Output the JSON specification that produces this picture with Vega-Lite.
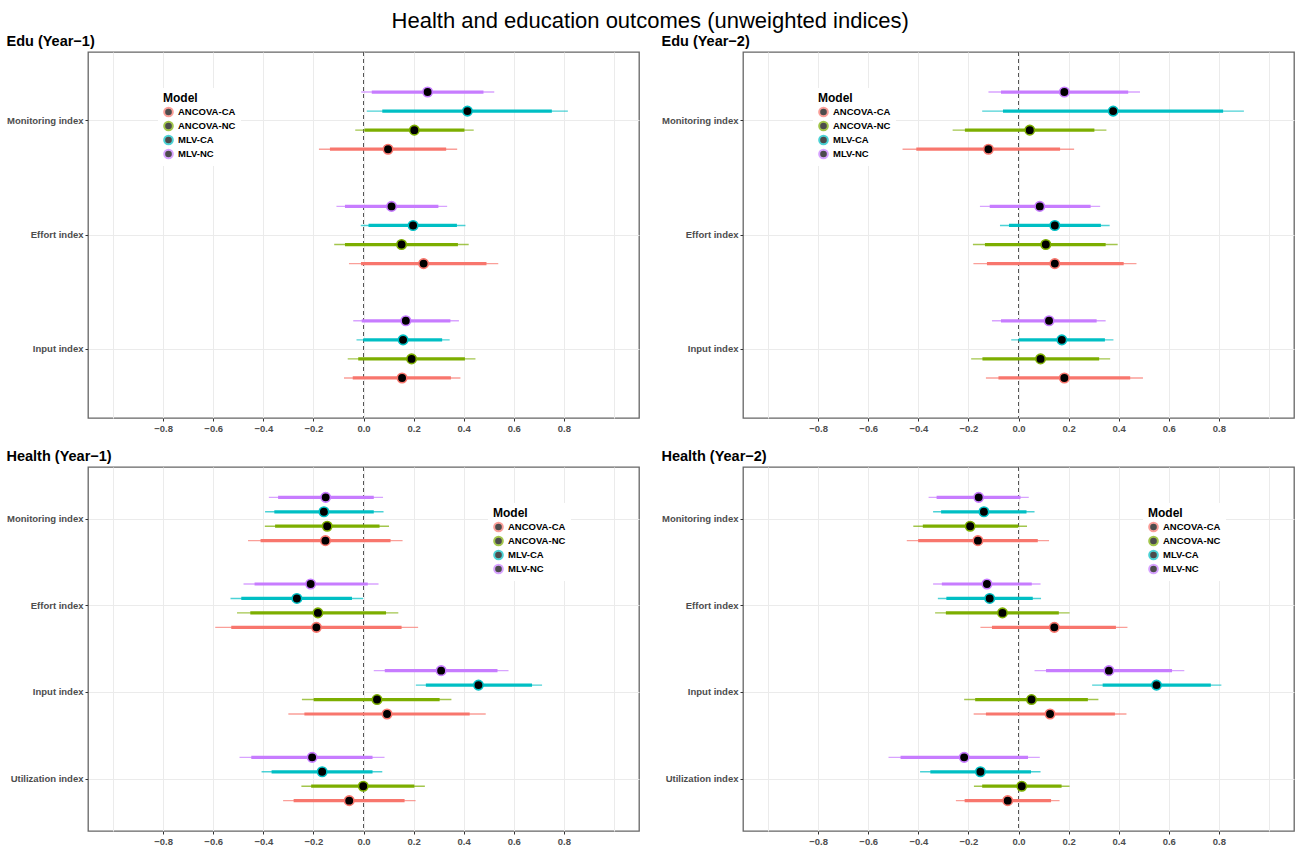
{
  "$schema": "https://vega.github.io/schema/vega-lite/v6.json",
  "padding": {"left": 5, "top": 10, "right": 0, "bottom": 0},
  "background": "white",
  "title": {"text": "Health and education outcomes (unweighted indices)", "fontSize": 22, "fontWeight": "normal", "color": "black", "anchor": "middle", "offset": 0},
  "bounds": "flush",
  "columns": 2,
  "spacing": {"row": 49, "column": 104},
  "resolve": {"scale": {"x": "independent", "y": "independent", "yOffset": "independent", "stroke": "independent"}, "legend": {"stroke": "independent"}, "axis": {"x": "independent", "y": "independent"}},
  "datasets": {
    "edu1": [
      {"index": "Monitoring index", "model": "MLV-NC", "est": 0.256, "lo95": -0.009, "hi95": 0.522, "lo90": 0.033, "hi90": 0.479},
      {"index": "Monitoring index", "model": "MLV-CA", "est": 0.415, "lo95": 0.013, "hi95": 0.816, "lo90": 0.075, "hi90": 0.752},
      {"index": "Monitoring index", "model": "ANCOVA-NC", "est": 0.203, "lo95": -0.033, "hi95": 0.44, "lo90": 0.004, "hi90": 0.403},
      {"index": "Monitoring index", "model": "ANCOVA-CA", "est": 0.098, "lo95": -0.178, "hi95": 0.374, "lo90": -0.134, "hi90": 0.33},
      {"index": "Effort index", "model": "MLV-NC", "est": 0.112, "lo95": -0.108, "hi95": 0.334, "lo90": -0.074, "hi90": 0.299},
      {"index": "Effort index", "model": "MLV-CA", "est": 0.198, "lo95": -0.011, "hi95": 0.407, "lo90": 0.02, "hi90": 0.373},
      {"index": "Effort index", "model": "ANCOVA-NC", "est": 0.152, "lo95": -0.117, "hi95": 0.42, "lo90": -0.074, "hi90": 0.377},
      {"index": "Effort index", "model": "ANCOVA-CA", "est": 0.24, "lo95": -0.058, "hi95": 0.538, "lo90": -0.01, "hi90": 0.491},
      {"index": "Input index", "model": "MLV-NC", "est": 0.169, "lo95": -0.041, "hi95": 0.381, "lo90": -0.007, "hi90": 0.347},
      {"index": "Input index", "model": "MLV-CA", "est": 0.158, "lo95": -0.028, "hi95": 0.344, "lo90": -0.001, "hi90": 0.314},
      {"index": "Input index", "model": "ANCOVA-NC", "est": 0.192, "lo95": -0.063, "hi95": 0.447, "lo90": -0.021, "hi90": 0.405},
      {"index": "Input index", "model": "ANCOVA-CA", "est": 0.154, "lo95": -0.078, "hi95": 0.387, "lo90": -0.043, "hi90": 0.349}
    ],
    "edu2": [
      {"index": "Monitoring index", "model": "MLV-NC", "est": 0.183, "lo95": -0.12, "hi95": 0.485, "lo90": -0.07, "hi90": 0.438},
      {"index": "Monitoring index", "model": "MLV-CA", "est": 0.378, "lo95": -0.145, "hi95": 0.9, "lo90": -0.062, "hi90": 0.817},
      {"index": "Monitoring index", "model": "ANCOVA-NC", "est": 0.045, "lo95": -0.263, "hi95": 0.351, "lo90": -0.214, "hi90": 0.303},
      {"index": "Monitoring index", "model": "ANCOVA-CA", "est": -0.12, "lo95": -0.463, "hi95": 0.222, "lo90": -0.408, "hi90": 0.166},
      {"index": "Effort index", "model": "MLV-NC", "est": 0.085, "lo95": -0.154, "hi95": 0.326, "lo90": -0.115, "hi90": 0.288},
      {"index": "Effort index", "model": "MLV-CA", "est": 0.145, "lo95": -0.074, "hi95": 0.364, "lo90": -0.038, "hi90": 0.329},
      {"index": "Effort index", "model": "ANCOVA-NC", "est": 0.109, "lo95": -0.182, "hi95": 0.396, "lo90": -0.134, "hi90": 0.348},
      {"index": "Effort index", "model": "ANCOVA-CA", "est": 0.145, "lo95": -0.18, "hi95": 0.471, "lo90": -0.126, "hi90": 0.42},
      {"index": "Input index", "model": "MLV-NC", "est": 0.122, "lo95": -0.106, "hi95": 0.348, "lo90": -0.07, "hi90": 0.312},
      {"index": "Input index", "model": "MLV-CA", "est": 0.173, "lo95": -0.029, "hi95": 0.379, "lo90": 0.001, "hi90": 0.345},
      {"index": "Input index", "model": "ANCOVA-NC", "est": 0.088, "lo95": -0.189, "hi95": 0.366, "lo90": -0.144, "hi90": 0.322},
      {"index": "Input index", "model": "ANCOVA-CA", "est": 0.183, "lo95": -0.13, "hi95": 0.497, "lo90": -0.08, "hi90": 0.446}
    ],
    "health1": [
      {"index": "Monitoring index", "model": "MLV-NC", "est": -0.151, "lo95": -0.378, "hi95": 0.078, "lo90": -0.341, "hi90": 0.041},
      {"index": "Monitoring index", "model": "MLV-CA", "est": -0.158, "lo95": -0.393, "hi95": 0.08, "lo90": -0.356, "hi90": 0.041},
      {"index": "Monitoring index", "model": "ANCOVA-NC", "est": -0.145, "lo95": -0.394, "hi95": 0.102, "lo90": -0.353, "hi90": 0.064},
      {"index": "Monitoring index", "model": "ANCOVA-CA", "est": -0.152, "lo95": -0.461, "hi95": 0.156, "lo90": -0.411, "hi90": 0.108},
      {"index": "Effort index", "model": "MLV-NC", "est": -0.211, "lo95": -0.479, "hi95": 0.06, "lo90": -0.435, "hi90": 0.017},
      {"index": "Effort index", "model": "MLV-CA", "est": -0.266, "lo95": -0.531, "hi95": -0.001, "lo90": -0.488, "hi90": -0.046},
      {"index": "Effort index", "model": "ANCOVA-NC", "est": -0.182, "lo95": -0.505, "hi95": 0.139, "lo90": -0.452, "hi90": 0.09},
      {"index": "Effort index", "model": "ANCOVA-CA", "est": -0.188, "lo95": -0.592, "hi95": 0.218, "lo90": -0.528, "hi90": 0.152},
      {"index": "Input index", "model": "MLV-NC", "est": 0.31, "lo95": 0.041, "hi95": 0.579, "lo90": 0.085, "hi90": 0.535},
      {"index": "Input index", "model": "MLV-CA", "est": 0.459, "lo95": 0.209, "hi95": 0.713, "lo90": 0.249, "hi90": 0.673},
      {"index": "Input index", "model": "ANCOVA-NC", "est": 0.054, "lo95": -0.246, "hi95": 0.351, "lo90": -0.199, "hi90": 0.304},
      {"index": "Input index", "model": "ANCOVA-CA", "est": 0.094, "lo95": -0.3, "hi95": 0.488, "lo90": -0.236, "hi90": 0.424},
      {"index": "Utilization index", "model": "MLV-NC", "est": -0.205, "lo95": -0.495, "hi95": 0.084, "lo90": -0.448, "hi90": 0.036},
      {"index": "Utilization index", "model": "MLV-CA", "est": -0.165, "lo95": -0.407, "hi95": 0.075, "lo90": -0.367, "hi90": 0.036},
      {"index": "Utilization index", "model": "ANCOVA-NC", "est": -0.001, "lo95": -0.248, "hi95": 0.245, "lo90": -0.209, "hi90": 0.203},
      {"index": "Utilization index", "model": "ANCOVA-CA", "est": -0.057, "lo95": -0.321, "hi95": 0.208, "lo90": -0.279, "hi90": 0.164}
    ],
    "health2": [
      {"index": "Monitoring index", "model": "MLV-NC", "est": -0.159, "lo95": -0.359, "hi95": 0.041, "lo90": -0.327, "hi90": 0.008},
      {"index": "Monitoring index", "model": "MLV-CA", "est": -0.138, "lo95": -0.341, "hi95": 0.064, "lo90": -0.309, "hi90": 0.032},
      {"index": "Monitoring index", "model": "ANCOVA-NC", "est": -0.193, "lo95": -0.42, "hi95": 0.034, "lo90": -0.382, "hi90": -0.001},
      {"index": "Monitoring index", "model": "ANCOVA-CA", "est": -0.162, "lo95": -0.446, "hi95": 0.122, "lo90": -0.401, "hi90": 0.077},
      {"index": "Effort index", "model": "MLV-NC", "est": -0.126, "lo95": -0.341, "hi95": 0.088, "lo90": -0.306, "hi90": 0.053},
      {"index": "Effort index", "model": "MLV-CA", "est": -0.115, "lo95": -0.322, "hi95": 0.09, "lo90": -0.288, "hi90": 0.057},
      {"index": "Effort index", "model": "ANCOVA-NC", "est": -0.064, "lo95": -0.333, "hi95": 0.204, "lo90": -0.29, "hi90": 0.161},
      {"index": "Effort index", "model": "ANCOVA-CA", "est": 0.143, "lo95": -0.152, "hi95": 0.435, "lo90": -0.106, "hi90": 0.389},
      {"index": "Input index", "model": "MLV-NC", "est": 0.361, "lo95": 0.064, "hi95": 0.662, "lo90": 0.11, "hi90": 0.613},
      {"index": "Input index", "model": "MLV-CA", "est": 0.551, "lo95": 0.294, "hi95": 0.81, "lo90": 0.336, "hi90": 0.768},
      {"index": "Input index", "model": "ANCOVA-NC", "est": 0.052, "lo95": -0.217, "hi95": 0.319, "lo90": -0.173, "hi90": 0.277},
      {"index": "Input index", "model": "ANCOVA-CA", "est": 0.126, "lo95": -0.179, "hi95": 0.431, "lo90": -0.13, "hi90": 0.385},
      {"index": "Utilization index", "model": "MLV-NC", "est": -0.217, "lo95": -0.519, "hi95": 0.085, "lo90": -0.471, "hi90": 0.038},
      {"index": "Utilization index", "model": "MLV-CA", "est": -0.152, "lo95": -0.393, "hi95": 0.088, "lo90": -0.352, "hi90": 0.05},
      {"index": "Utilization index", "model": "ANCOVA-NC", "est": 0.013, "lo95": -0.178, "hi95": 0.204, "lo90": -0.145, "hi90": 0.172},
      {"index": "Utilization index", "model": "ANCOVA-CA", "est": -0.043, "lo95": -0.25, "hi95": 0.164, "lo90": -0.215, "hi90": 0.13}
    ]
  },
  "concat": [
    {
      "title": {"text": "Edu (Year−1)"},
      "width": 551, "height": 366,
      "data": {"name": "edu1"},
      "layer": [
        {"mark": {"type": "rule", "strokeDash": [4, 3], "color": "#555555", "strokeWidth": 0.8}, "encoding": {"x": {"datum": 0, "type": "quantitative", "scale": {"domain": [-1.1, 1.1], "nice": false, "zero": false}, "axis": {"values": [-1.0, -0.9, -0.8, -0.7, -0.6, -0.5, -0.4, -0.3, -0.2, -0.1, 0.0, 0.1, 0.2, 0.3, 0.4, 0.5, 0.6, 0.7, 0.8, 0.9, 1.0], "format": ".1f", "labelExpr": "(abs(datum.value) < 0.85 && round(datum.value*10) % 2 == 0) ? datum.label : ''", "tickOpacity": {"condition": {"test": "abs(datum.value) < 0.85 && round(datum.value*10) % 2 == 0", "value": 1}, "value": 0}, "title": null}}}},
        {"mark": {"type": "rule", "strokeWidth": 1.4, "opacity": 0.7}, "encoding": {"y": {"field": "index", "type": "nominal", "sort": ["Monitoring index", "Effort index", "Input index"], "scale": {"type": "band", "paddingInner": 0, "paddingOuter": 0.1}, "axis": {"title": null, "grid": true, "bandPosition": 0.5}}, "yOffset": {"field": "model", "type": "nominal", "sort": ["MLV-NC", "MLV-CA", "ANCOVA-NC", "ANCOVA-CA"], "scale": {"type": "band", "paddingInner": 0, "paddingOuter": 2}}, "x": {"field": "lo95", "type": "quantitative"}, "x2": {"field": "hi95"}, "stroke": {"field": "model", "type": "nominal", "scale": {"domain": ["ANCOVA-CA", "ANCOVA-NC", "MLV-CA", "MLV-NC"], "range": ["#F8766D", "#7CAE00", "#00BFC4", "#C77CFF"]}, "legend": {"title": "Model", "orient": "none", "legendX": 70, "legendY": 36}}}},
        {"mark": {"type": "rule", "strokeWidth": 3.2}, "encoding": {"y": {"field": "index", "type": "nominal", "sort": ["Monitoring index", "Effort index", "Input index"]}, "yOffset": {"field": "model", "type": "nominal", "sort": ["MLV-NC", "MLV-CA", "ANCOVA-NC", "ANCOVA-CA"]}, "x": {"field": "lo90", "type": "quantitative"}, "x2": {"field": "hi90"}, "stroke": {"field": "model", "type": "nominal"}}},
        {"mark": {"type": "point", "filled": false, "fill": "black", "fillOpacity": 1, "shape": "circle", "size": 90, "strokeWidth": 1.6, "opacity": 1}, "encoding": {"y": {"field": "index", "type": "nominal", "sort": ["Monitoring index", "Effort index", "Input index"]}, "yOffset": {"field": "model", "type": "nominal", "sort": ["MLV-NC", "MLV-CA", "ANCOVA-NC", "ANCOVA-CA"]}, "x": {"field": "est", "type": "quantitative"}, "stroke": {"field": "model", "type": "nominal"}}}
      ]
    },
    {
      "title": {"text": "Edu (Year−2)"},
      "width": 551, "height": 366,
      "data": {"name": "edu2"},
      "layer": [
        {"mark": {"type": "rule", "strokeDash": [4, 3], "color": "#555555", "strokeWidth": 0.8}, "encoding": {"x": {"datum": 0, "type": "quantitative", "scale": {"domain": [-1.1, 1.1], "nice": false, "zero": false}, "axis": {"values": [-1.0, -0.9, -0.8, -0.7, -0.6, -0.5, -0.4, -0.3, -0.2, -0.1, 0.0, 0.1, 0.2, 0.3, 0.4, 0.5, 0.6, 0.7, 0.8, 0.9, 1.0], "format": ".1f", "labelExpr": "(abs(datum.value) < 0.85 && round(datum.value*10) % 2 == 0) ? datum.label : ''", "tickOpacity": {"condition": {"test": "abs(datum.value) < 0.85 && round(datum.value*10) % 2 == 0", "value": 1}, "value": 0}, "title": null}}}},
        {"mark": {"type": "rule", "strokeWidth": 1.4, "opacity": 0.7}, "encoding": {"y": {"field": "index", "type": "nominal", "sort": ["Monitoring index", "Effort index", "Input index"], "scale": {"type": "band", "paddingInner": 0, "paddingOuter": 0.1}, "axis": {"title": null, "grid": true, "bandPosition": 0.5}}, "yOffset": {"field": "model", "type": "nominal", "sort": ["MLV-NC", "MLV-CA", "ANCOVA-NC", "ANCOVA-CA"], "scale": {"type": "band", "paddingInner": 0, "paddingOuter": 2}}, "x": {"field": "lo95", "type": "quantitative"}, "x2": {"field": "hi95"}, "stroke": {"field": "model", "type": "nominal", "scale": {"domain": ["ANCOVA-CA", "ANCOVA-NC", "MLV-CA", "MLV-NC"], "range": ["#F8766D", "#7CAE00", "#00BFC4", "#C77CFF"]}, "legend": {"title": "Model", "orient": "none", "legendX": 70, "legendY": 36}}}},
        {"mark": {"type": "rule", "strokeWidth": 3.2}, "encoding": {"y": {"field": "index", "type": "nominal", "sort": ["Monitoring index", "Effort index", "Input index"]}, "yOffset": {"field": "model", "type": "nominal", "sort": ["MLV-NC", "MLV-CA", "ANCOVA-NC", "ANCOVA-CA"]}, "x": {"field": "lo90", "type": "quantitative"}, "x2": {"field": "hi90"}, "stroke": {"field": "model", "type": "nominal"}}},
        {"mark": {"type": "point", "filled": false, "fill": "black", "fillOpacity": 1, "shape": "circle", "size": 90, "strokeWidth": 1.6, "opacity": 1}, "encoding": {"y": {"field": "index", "type": "nominal", "sort": ["Monitoring index", "Effort index", "Input index"]}, "yOffset": {"field": "model", "type": "nominal", "sort": ["MLV-NC", "MLV-CA", "ANCOVA-NC", "ANCOVA-CA"]}, "x": {"field": "est", "type": "quantitative"}, "stroke": {"field": "model", "type": "nominal"}}}
      ]
    },
    {
      "title": {"text": "Health (Year−1)"},
      "width": 551, "height": 364,
      "data": {"name": "health1"},
      "layer": [
        {"mark": {"type": "rule", "strokeDash": [4, 3], "color": "#555555", "strokeWidth": 0.8}, "encoding": {"x": {"datum": 0, "type": "quantitative", "scale": {"domain": [-1.1, 1.1], "nice": false, "zero": false}, "axis": {"values": [-1.0, -0.9, -0.8, -0.7, -0.6, -0.5, -0.4, -0.3, -0.2, -0.1, 0.0, 0.1, 0.2, 0.3, 0.4, 0.5, 0.6, 0.7, 0.8, 0.9, 1.0], "format": ".1f", "labelExpr": "(abs(datum.value) < 0.85 && round(datum.value*10) % 2 == 0) ? datum.label : ''", "tickOpacity": {"condition": {"test": "abs(datum.value) < 0.85 && round(datum.value*10) % 2 == 0", "value": 1}, "value": 0}, "title": null}}}},
        {"mark": {"type": "rule", "strokeWidth": 1.4, "opacity": 0.7}, "encoding": {"y": {"field": "index", "type": "nominal", "sort": ["Monitoring index", "Effort index", "Input index", "Utilization index"], "scale": {"type": "band", "paddingInner": 0, "paddingOuter": 0.1}, "axis": {"title": null, "grid": true, "bandPosition": 0.5}}, "yOffset": {"field": "model", "type": "nominal", "sort": ["MLV-NC", "MLV-CA", "ANCOVA-NC", "ANCOVA-CA"], "scale": {"type": "band", "paddingInner": 0, "paddingOuter": 2}}, "x": {"field": "lo95", "type": "quantitative"}, "x2": {"field": "hi95"}, "stroke": {"field": "model", "type": "nominal", "scale": {"domain": ["ANCOVA-CA", "ANCOVA-NC", "MLV-CA", "MLV-NC"], "range": ["#F8766D", "#7CAE00", "#00BFC4", "#C77CFF"]}, "legend": {"title": "Model", "orient": "none", "legendX": 400, "legendY": 36}}}},
        {"mark": {"type": "rule", "strokeWidth": 3.2}, "encoding": {"y": {"field": "index", "type": "nominal", "sort": ["Monitoring index", "Effort index", "Input index", "Utilization index"]}, "yOffset": {"field": "model", "type": "nominal", "sort": ["MLV-NC", "MLV-CA", "ANCOVA-NC", "ANCOVA-CA"]}, "x": {"field": "lo90", "type": "quantitative"}, "x2": {"field": "hi90"}, "stroke": {"field": "model", "type": "nominal"}}},
        {"mark": {"type": "point", "filled": false, "fill": "black", "fillOpacity": 1, "shape": "circle", "size": 90, "strokeWidth": 1.6, "opacity": 1}, "encoding": {"y": {"field": "index", "type": "nominal", "sort": ["Monitoring index", "Effort index", "Input index", "Utilization index"]}, "yOffset": {"field": "model", "type": "nominal", "sort": ["MLV-NC", "MLV-CA", "ANCOVA-NC", "ANCOVA-CA"]}, "x": {"field": "est", "type": "quantitative"}, "stroke": {"field": "model", "type": "nominal"}}}
      ]
    },
    {
      "title": {"text": "Health (Year−2)"},
      "width": 551, "height": 364,
      "data": {"name": "health2"},
      "layer": [
        {"mark": {"type": "rule", "strokeDash": [4, 3], "color": "#555555", "strokeWidth": 0.8}, "encoding": {"x": {"datum": 0, "type": "quantitative", "scale": {"domain": [-1.1, 1.1], "nice": false, "zero": false}, "axis": {"values": [-1.0, -0.9, -0.8, -0.7, -0.6, -0.5, -0.4, -0.3, -0.2, -0.1, 0.0, 0.1, 0.2, 0.3, 0.4, 0.5, 0.6, 0.7, 0.8, 0.9, 1.0], "format": ".1f", "labelExpr": "(abs(datum.value) < 0.85 && round(datum.value*10) % 2 == 0) ? datum.label : ''", "tickOpacity": {"condition": {"test": "abs(datum.value) < 0.85 && round(datum.value*10) % 2 == 0", "value": 1}, "value": 0}, "title": null}}}},
        {"mark": {"type": "rule", "strokeWidth": 1.4, "opacity": 0.7}, "encoding": {"y": {"field": "index", "type": "nominal", "sort": ["Monitoring index", "Effort index", "Input index", "Utilization index"], "scale": {"type": "band", "paddingInner": 0, "paddingOuter": 0.1}, "axis": {"title": null, "grid": true, "bandPosition": 0.5}}, "yOffset": {"field": "model", "type": "nominal", "sort": ["MLV-NC", "MLV-CA", "ANCOVA-NC", "ANCOVA-CA"], "scale": {"type": "band", "paddingInner": 0, "paddingOuter": 2}}, "x": {"field": "lo95", "type": "quantitative"}, "x2": {"field": "hi95"}, "stroke": {"field": "model", "type": "nominal", "scale": {"domain": ["ANCOVA-CA", "ANCOVA-NC", "MLV-CA", "MLV-NC"], "range": ["#F8766D", "#7CAE00", "#00BFC4", "#C77CFF"]}, "legend": {"title": "Model", "orient": "none", "legendX": 400, "legendY": 36}}}},
        {"mark": {"type": "rule", "strokeWidth": 3.2}, "encoding": {"y": {"field": "index", "type": "nominal", "sort": ["Monitoring index", "Effort index", "Input index", "Utilization index"]}, "yOffset": {"field": "model", "type": "nominal", "sort": ["MLV-NC", "MLV-CA", "ANCOVA-NC", "ANCOVA-CA"]}, "x": {"field": "lo90", "type": "quantitative"}, "x2": {"field": "hi90"}, "stroke": {"field": "model", "type": "nominal"}}},
        {"mark": {"type": "point", "filled": false, "fill": "black", "fillOpacity": 1, "shape": "circle", "size": 90, "strokeWidth": 1.6, "opacity": 1}, "encoding": {"y": {"field": "index", "type": "nominal", "sort": ["Monitoring index", "Effort index", "Input index", "Utilization index"]}, "yOffset": {"field": "model", "type": "nominal", "sort": ["MLV-NC", "MLV-CA", "ANCOVA-NC", "ANCOVA-CA"]}, "x": {"field": "est", "type": "quantitative"}, "stroke": {"field": "model", "type": "nominal"}}}
      ]
    }
  ],
  "config": {
    "font": "Liberation Sans",
    "view": {"stroke": "#666666", "strokeWidth": 1.3},
    "title": {"anchor": "start", "fontSize": 14.5, "fontWeight": "bold", "color": "black", "offset": 2},
    "axis": {
      "labelFont": "Liberation Sans", "labelFontSize": 9.5, "labelFontWeight": "bold", "labelColor": "#4D4D4D",
      "tickColor": "#333333", "tickSize": 3, "labelPadding": 2, "domain": false,
      "gridColor": "#EBEBEB", "gridWidth": 1
    },
    "axisX": {"grid": true},
    "legend": {
      "titleFontSize": 12, "titleFontWeight": "bold", "titleColor": "black", "titleFont": "Liberation Sans", "titlePadding": 0,
      "labelFontSize": 9.5, "labelFontWeight": "bold", "labelColor": "black", "labelFont": "Liberation Sans", "labelOffset": 4,
      "symbolType": "circle", "symbolSize": 75, "symbolStrokeWidth": 2, "symbolFillColor": "black",
      "fillColor": "white", "padding": 5, "rowPadding": 0, "clipHeight": 14
    }
  }
}
